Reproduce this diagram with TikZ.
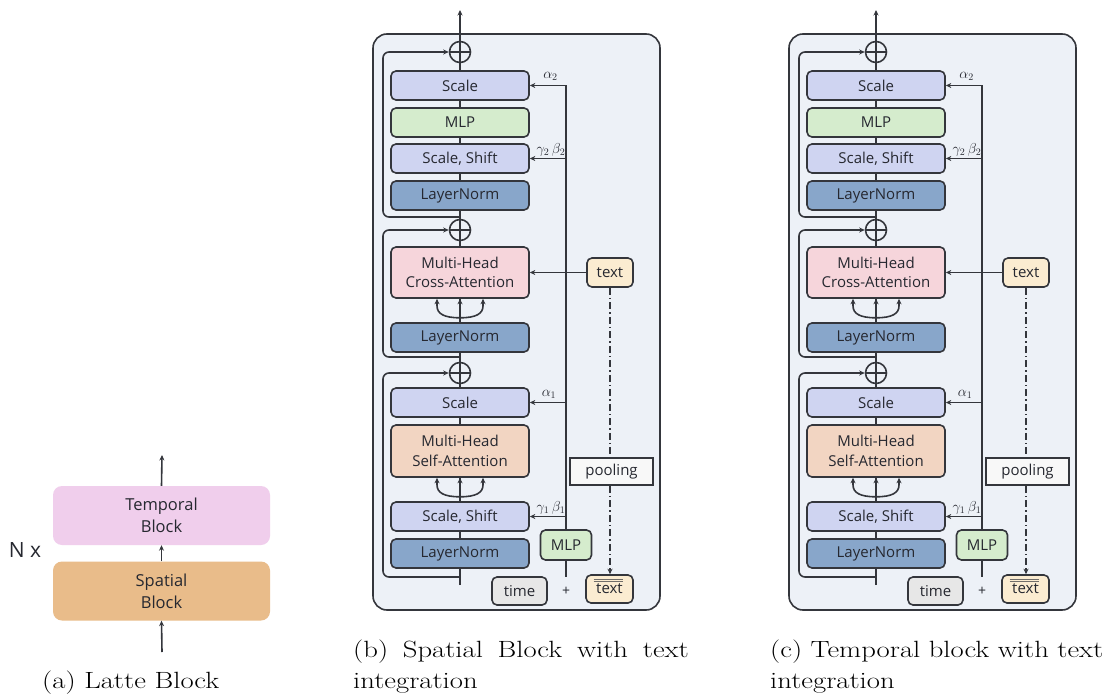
\documentclass[tikz,border=0pt]{standalone}
\usepackage{fontspec}
\newfontfamily\blockfont{Open Sans}
\usetikzlibrary{arrows.meta,calc}

\definecolor{ink}{RGB}{52,54,60}
\definecolor{labelink}{RGB}{38,40,48}
\definecolor{panelbg}{RGB}{237,241,247}
\definecolor{scalefill}{RGB}{207,212,241}
\definecolor{mlpfill}{RGB}{213,236,205}
\definecolor{normfill}{RGB}{136,166,202}
\definecolor{crossfill}{RGB}{246,213,219}
\definecolor{selffill}{RGB}{242,213,194}
\definecolor{textfill}{RGB}{251,236,209}
\definecolor{timefill}{RGB}{231,231,231}
\definecolor{poolfill}{RGB}{248,248,248}
\definecolor{tempfill}{RGB}{240,206,236}
\definecolor{spatfill}{RGB}{233,188,138}

\tikzset{
  wire/.style={draw=ink, line width=1.6pt},
  arrowed/.style={-{Stealth[length=5.5pt,width=5pt]}},
  dashdot/.style={draw=ink, line width=1.3pt, dash pattern=on 7pt off 3pt on 1.5pt off 3pt},
  blockbox/.style={draw=ink, line width=1.6pt, rounded corners=5pt, minimum width=138pt,
    minimum height=29pt, inner sep=0pt, align=center, text=labelink,
    font=\blockfont\fontsize{15}{19.5}\selectfont},
  tallbox/.style={minimum height=52pt},
  smallbox/.style={blockbox, minimum width=0pt},
  panelbox/.style={draw=ink, line width=1.6pt, fill=panelbg, rounded corners=14pt,
    minimum width=287pt, minimum height=576pt, inner sep=0pt},
  oplus/.style={circle, draw=ink, line width=1.6pt, fill=panelbg, minimum size=21pt, inner sep=0pt,
    path picture={\draw[ink, line width=1.6pt]
      (path picture bounding box.north) -- (path picture bounding box.south)
      (path picture bounding box.west) -- (path picture bounding box.east);}},
  coef/.style={font=\fontsize{14}{14}\selectfont, text=labelink, inner sep=0pt},
  bigblock/.style={rounded corners=9pt, minimum width=217pt, minimum height=59pt, inner sep=0pt,
    align=center, text=labelink, font=\blockfont\fontsize{16.5}{22}\selectfont},
  captiontext/.style={anchor=base west, inner sep=0pt, font=\fontsize{23.5}{31}\selectfont},
}

% three arrows fanning out of the spine into an attention block
\newcommand\headfan[1]{%
  \coordinate (#1-fan) at ($(#1.south)+(0,19)$);
  \draw[wire, arrowed] (#1-fan) -- (#1.south);
  \draw[wire, arrowed] (#1-fan) .. controls ($(#1.south)+(-16,19)$) and ($(#1.south)+(-23,15)$)
    .. ($(#1.south)+(-23,7)$) -- ($(#1.south)+(-23,0)$);
  \draw[wire, arrowed] (#1-fan) .. controls ($(#1.south)+(16,19)$) and ($(#1.south)+(23,15)$)
    .. ($(#1.south)+(23,7)$) -- ($(#1.south)+(23,0)$);
}

% one transformer block with text conditioning; #1 = name prefix
\newcommand\condblock[1]{%
  \node[panelbox] (#1-bg) at (516.5,322) {};
  \coordinate (#1-bot) at (460,585);
  \coordinate (#1-top) at (460,10);
  \coordinate (#1-lx) at (383,0);
  \coordinate (#1-r2) at (460,217);
  \coordinate (#1-rc) at (460,357);
  \coordinate (#1-r1) at (460,577);
  \draw[wire, arrowed] (#1-bot) -- (#1-top);
  \node[oplus] (#1-add2) at (460,52) {};
  \node[oplus] (#1-addc) at (460,230) {};
  \node[oplus] (#1-add1) at (460,373) {};
  \draw[wire, arrowed, rounded corners=6pt] (#1-r2) -- (#1-r2 -| #1-lx) |- (#1-add2.west);
  \draw[wire, arrowed, rounded corners=6pt] (#1-rc) -- (#1-rc -| #1-lx) |- (#1-addc.west);
  \draw[wire, arrowed, rounded corners=6pt] (#1-r1) -- (#1-r1 -| #1-lx) |- (#1-add1.west);
  % main stack
  \node[blockbox, fill=scalefill] (#1-sc2) at (460,85.5) {Scale};
  \node[blockbox, fill=mlpfill] (#1-mlp) at (460,122.5) {MLP};
  \node[blockbox, fill=scalefill] (#1-ss2) at (460,158.5) {Scale, Shift};
  \node[blockbox, fill=normfill] (#1-ln2) at (460,195.5) {LayerNorm};
  \node[blockbox, tallbox, minimum height=51pt, fill=crossfill] (#1-cross) at (460,272.5) {Multi-Head\\Cross-Attention};
  \node[blockbox, fill=normfill] (#1-lnc) at (460,337.5) {LayerNorm};
  \node[blockbox, fill=scalefill] (#1-sc1) at (460,402.5) {Scale};
  \node[blockbox, tallbox, fill=selffill] (#1-self) at (460,451) {Multi-Head\\Self-Attention};
  \node[blockbox, fill=scalefill] (#1-ss1) at (460,516.5) {Scale, Shift};
  \node[blockbox, fill=normfill] (#1-ln1) at (460,553.5) {LayerNorm};
  \headfan{#1-cross}
  \headfan{#1-self}
  % conditioning side
  \node[smallbox, fill=mlpfill, minimum width=51pt, minimum height=30pt] (#1-mlpt) at (566,545) {MLP};
  \node[smallbox, fill=timefill, minimum width=55pt, minimum height=28pt] (#1-time) at (519.5,591) {time};
  \node[inner sep=0pt, text=labelink, font=\blockfont\fontsize{14}{14}\selectfont] (#1-plus) at (566,591) {+};
  \node[smallbox, fill=textfill, minimum width=47pt, minimum height=28pt] (#1-txtb) at (609.5,589) {text};
  \draw[draw=ink!70!textfill, line width=0.6pt] ($(#1-txtb.north)+(-16,5)$) -- ($(#1-txtb.north)+(13,5)$)
    ($(#1-txtb.north)+(-16,7.5)$) -- ($(#1-txtb.north)+(13,7.5)$);
  \node[smallbox, fill=textfill, minimum width=46pt, minimum height=29pt] (#1-txt) at (610,272.5) {text};
  \node[smallbox, fill=poolfill, rounded corners=0pt, minimum width=83pt, minimum height=27pt] (#1-pool) at (611.5,471.5) {pooling};
  \coordinate (#1-tj) at (566,577);
  \draw[wire] (#1-mlpt.south) -- (#1-tj);
  \draw[wire, arrowed] (#1-mlpt.north) |- (#1-sc2.east);
  \draw[wire, arrowed] (#1-ss2.east -| #1-mlpt.north) -- (#1-ss2.east);
  \draw[wire, arrowed] (#1-sc1.east -| #1-mlpt.north) -- (#1-sc1.east);
  \draw[wire, arrowed] (#1-ss1.east -| #1-mlpt.north) -- (#1-ss1.east);
  \draw[wire, arrowed] (#1-txt.west) -- (#1-cross.east);
  \draw[dashdot] (#1-txt.south) -- (#1-txt.south |- #1-pool.north);
  \draw[dashdot, arrowed] (#1-txt.south |- #1-pool.south) -- (#1-txt.south |- #1-txtb.north);
  \node[coef] (#1-a2) at (550.5,76) {$\alpha_2$};
  \node[coef] (#1-gb2) at (551,149.5) {$\gamma_2\,\beta_2$};
  \node[coef] (#1-a1) at (549,394) {$\alpha_1$};
  \node[coef] (#1-gb1) at (551,507.5) {$\gamma_1\,\beta_1$};
}

\begin{document}
\begin{tikzpicture}[x=1pt, y=-1pt]
  \fill[white] (0,0) rectangle (1115,700);
  \useasboundingbox (0,0) rectangle (1115,700);

  % (a) stacked Latte block
  \node[bigblock, fill=tempfill] (tb) at (161.5,515.5) {Temporal\\Block};
  \node[bigblock, fill=spatfill] (sb) at (161.5,591) {Spatial\\Block};
  \coordinate (ain) at (162,652);
  \coordinate (aout) at (162,455);
  \draw[wire, arrowed] (ain) -- (sb.south);
  \draw[wire, arrowed] (sb.north) -- (tb.south);
  \draw[wire, arrowed] (tb.north) -- (aout);
  \node[inner sep=0pt, text=labelink, font=\blockfont\fontsize{21}{21}\selectfont] (nx) at (25,550) {N x};
  \node[captiontext] (capa) at (42,688) {\scalebox{1.22}[1]{(a) Latte Block}};

  % (b) spatial block
  \condblock{sp}
  \node[captiontext] (capb) at (353,657)
    {\scalebox{1.22}[1]{\parbox[t]{275pt}{\makebox[275pt][s]{(b) Spatial Block with text}\\integration}}};

  % (c) temporal block
  \begin{scope}[xshift=416pt]
    \condblock{tp}
  \end{scope}
  \node[captiontext] (capc) at (770,657)
    {\scalebox{1.22}[1]{\parbox[t]{273pt}{\makebox[273pt][s]{(c) Temporal block with text}\\integration}}};
\end{tikzpicture}
\end{document}
